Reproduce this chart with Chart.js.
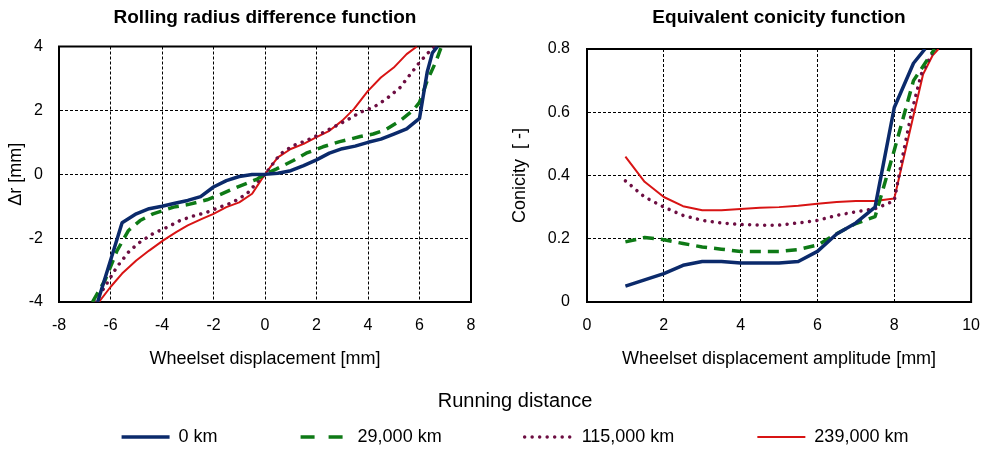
<!DOCTYPE html>
<html>
<head>
<meta charset="utf-8">
<title>Rolling radius difference and equivalent conicity</title>
<script src="https://cdn.jsdelivr.net/npm/chart.js@4.4.1/dist/chart.umd.min.js"></script>
<style>
  html, body { margin: 0; padding: 0; background: #fff; overflow: hidden; }
  #page { position: relative; width: 994px; height: 450px; overflow: hidden; }
  canvas { position: absolute; }
  #rrd { left: 0; top: 0; }
  #con { left: 497px; top: 0; }
  #leg { left: 0; top: 380px; }
</style>
</head>
<body>
<div id="page">
  <canvas id="rrd" width="497" height="380"></canvas>
  <canvas id="con" width="497" height="380"></canvas>
  <canvas id="leg" width="994" height="200"></canvas>
</div>
<script>
// series names (running distance)
const seriesLabels = ['0 km', '29,000 km', '115,000 km', '239,000 km'];

// rolling radius difference: wheelset displacement [mm] -> delta r [mm]
const rrdX0 = [-6.5, -6.0, -5.55, -5.0, -4.5, -4.0, -3.5, -3.0, -2.5, -2.0, -1.5, -1.0, -0.5, 0, 0.5, 1.0, 1.5, 2.0, 2.5, 3.0, 3.5, 4.0, 4.5, 5.0, 5.5, 6.0, 6.3, 6.5, 6.7];
const rrdY0 = [-4.0, -2.7, -1.52, -1.24, -1.08, -1.0, -0.91, -0.82, -0.7, -0.4, -0.2, -0.07, -0.01, 0, 0.03, 0.11, 0.27, 0.45, 0.66, 0.8, 0.88, 1.0, 1.1, 1.26, 1.42, 1.75, 3.2, 3.8, 4.0];
const rrdX1 = [-6.7, -6.2, -5.75, -5.3, -4.85, -4.35, -3.55, -3.0, -2.25, -1.75, -1.25, -0.7, -0.3, 0, 0.45, 1.1, 1.6, 2.25, 2.9, 3.7, 4.2, 4.7, 5.25, 5.75, 6.0, 6.3, 6.65, 6.85];
const rrdY1 = [-4.0, -3.3, -2.4, -1.76, -1.45, -1.24, -1.03, -0.95, -0.8, -0.64, -0.46, -0.28, -0.15, 0, 0.17, 0.43, 0.66, 0.86, 1.02, 1.18, 1.26, 1.4, 1.68, 2.0, 2.25, 2.93, 3.55, 4.0];
const rrdX2 = [-6.6, -6.15, -5.75, -5.25, -4.85, -4.35, -3.8, -3.3, -2.8, -2.25, -1.75, -1.25, -0.7, -0.3, 0, 0.3, 0.6, 1.1, 1.6, 2.15, 2.65, 3.15, 3.7, 4.2, 4.7, 5.25, 5.75, 6.0, 6.4, 6.6];
const rrdY2 = [-4.0, -3.43, -2.9, -2.39, -2.12, -1.86, -1.66, -1.45, -1.31, -1.19, -1.03, -0.88, -0.61, -0.25, 0, 0.32, 0.64, 0.9, 1.05, 1.26, 1.47, 1.68, 1.94, 2.09, 2.35, 2.72, 3.24, 3.5, 3.86, 4.0];
const rrdX3 = [-6.45, -6.0, -5.55, -5.0, -4.5, -3.95, -3.45, -3.0, -2.45, -2.0, -1.5, -1.0, -0.5, -0.25, 0, 0.25, 0.5, 1.0, 1.5, 2.0, 2.5, 3.0, 3.45, 4.0, 4.5, 5.0, 5.5, 5.9];
const rrdY3 = [-4.0, -3.53, -3.11, -2.7, -2.39, -2.07, -1.81, -1.6, -1.4, -1.24, -1.03, -0.88, -0.61, -0.3, 0, 0.27, 0.53, 0.79, 0.95, 1.16, 1.36, 1.68, 2.04, 2.61, 3.03, 3.34, 3.76, 4.0];

// equivalent conicity: displacement amplitude [mm] -> conicity [-]
const conX0 = [1, 1.5, 2, 2.5, 3, 3.5, 4, 4.5, 5, 5.5, 6, 6.5, 7, 7.5, 8, 8.5, 8.8];
const conY0 = [0.05, 0.07, 0.09, 0.116, 0.128, 0.128, 0.123, 0.123, 0.123, 0.128, 0.16, 0.215, 0.25, 0.3, 0.615, 0.755, 0.8];
const conX1 = [1, 1.5, 2, 2.5, 3, 3.5, 4, 4.5, 5, 5.5, 6, 6.5, 7, 7.5, 8, 8.5, 9.05];
const conY1 = [0.19, 0.204, 0.197, 0.185, 0.174, 0.167, 0.16, 0.16, 0.16, 0.166, 0.18, 0.216, 0.248, 0.27, 0.48, 0.7, 0.8];
const conX2 = [1, 1.5, 2, 2.5, 3, 3.5, 4, 4.5, 5, 5.5, 6, 6.5, 7, 7.5, 8, 8.2, 8.45, 8.7, 9.05];
const conY2 = [0.383, 0.332, 0.3, 0.274, 0.258, 0.25, 0.245, 0.243, 0.243, 0.25, 0.258, 0.274, 0.285, 0.295, 0.32, 0.45, 0.6, 0.72, 0.8];
const conX3 = [1, 1.5, 2, 2.5, 3, 3.5, 4, 4.5, 5, 5.5, 6, 6.5, 7, 7.5, 8, 8.5, 8.75, 9.0, 9.15];
const conY3 = [0.46, 0.38, 0.332, 0.303, 0.29, 0.29, 0.294, 0.298, 0.3, 0.304, 0.311, 0.316, 0.319, 0.319, 0.327, 0.59, 0.72, 0.78, 0.8];

// axis ranges [min, max, step]
const rrdXAxis = [-8, 8, 2];
const rrdYAxis = [-4, 4, 2];
const conXAxis = [0, 10, 2];
const conYAxis = [0, 0.8, 0.2];

// line styles per series
const lineStyles = [
    { color: '#0b2a6b', width: 3.5, dash: [], cap: 'butt', legendDash: [] },
    { color: '#0e7a16', width: 3.5, dash: [11, 7], cap: 'butt', legendDash: [14, 14] },
    { color: '#6d0e42', width: 3.5, dash: [0.01, 7.5], cap: 'round', legendDash: [0.01, 7.5] },
    { color: '#d81414', width: 2, dash: [], cap: 'butt', legendDash: [] }
];

const FONT = "'Liberation Sans', Arial, sans-serif";
Chart.defaults.font.family = FONT;
Chart.defaults.color = '#000';

function points(xs, ys) {
    return xs.map((x, i) => ({ x: x, y: ys[i] }));
}

function buildDatasets(seriesData) {
    return seriesData.map((pts, i) => ({
        label: seriesLabels[i],
        data: pts,
        borderColor: lineStyles[i].color,
        backgroundColor: lineStyles[i].color,
        borderWidth: lineStyles[i].width,
        borderDash: lineStyles[i].dash,
        borderCapStyle: lineStyles[i].cap,
        borderJoinStyle: 'round',
        pointRadius: 0,
        tension: 0,
        fill: false
    }));
}

// solid black frame round the plot area
const framePlugin = {
    id: 'frame',
    beforeDatasetsDraw(chart) {
        const { ctx, chartArea: a } = chart;
        ctx.save();
        ctx.strokeStyle = '#000';
        ctx.lineWidth = 2;
        ctx.strokeRect(a.left, a.top, a.right - a.left, a.bottom - a.top);
        ctx.restore();
    }
};

function makePanel(canvasId, opts) {
    const ctx = document.getElementById(canvasId).getContext('2d');
    return new Chart(ctx, {
        type: 'line',
        data: { datasets: buildDatasets(opts.series) },
        options: {
            responsive: false,
            animation: false,
            layout: { padding: { left: 0, right: opts.padRight, top: 0, bottom: 0 } },
            plugins: {
                legend: { display: false },
                tooltip: { enabled: false },
                title: {
                    display: true,
                    text: opts.title,
                    fullSize: false,
                    color: '#000',
                    font: { size: 19, weight: 'bold' },
                    padding: { top: 6, bottom: opts.titleGap }
                }
            },
            scales: {
                x: {
                    type: 'linear',
                    min: opts.xAxis[0],
                    max: opts.xAxis[1],
                    afterFit: (s) => { s.height = 78; },
                    ticks: {
                        stepSize: opts.xAxis[2],
                        padding: 14,
                        color: '#000',
                        font: { size: 16 },
                        maxRotation: 0
                    },
                    grid: { color: '#000', lineWidth: 1, drawTicks: false },
                    border: { display: true, color: '#000', width: 2, dash: [3, 2] },
                    title: {
                        display: true,
                        text: opts.xTitle,
                        color: '#000',
                        font: { size: 18 },
                        padding: { top: 0, bottom: 10 }
                    }
                },
                y: {
                    type: 'linear',
                    min: opts.yAxis[0],
                    max: opts.yAxis[1],
                    afterFit: (s) => { s.width = opts.yWidth; },
                    ticks: {
                        stepSize: opts.yAxis[2],
                        padding: opts.yTickPad,
                        color: '#000',
                        font: { size: 16 }
                    },
                    grid: { color: '#000', lineWidth: 1, drawTicks: false },
                    border: { display: true, color: '#000', width: 2, dash: [3, 2] },
                    title: {
                        display: true,
                        text: opts.yTitle,
                        color: '#000',
                        font: { size: 18 },
                        padding: { top: opts.yTitlePad, bottom: 0 }
                    }
                }
            }
        },
        plugins: [framePlugin]
    });
}

makePanel('rrd', {
    title: 'Rolling radius difference function',
    xTitle: 'Wheelset displacement [mm]',
    yTitle: 'Δr [mm]',
    xAxis: rrdXAxis,
    yAxis: rrdYAxis,
    series: [points(rrdX0, rrdY0), points(rrdX1, rrdY1), points(rrdX2, rrdY2), points(rrdX3, rrdY3)],
    padRight: 26,
    titleGap: 17.7,
    yWidth: 59,
    yTickPad: 16,
    yTitlePad: 5
});

makePanel('con', {
    title: 'Equivalent conicity function',
    xTitle: 'Wheelset displacement amplitude [mm]',
    yTitle: 'Conicity  [ -]',
    xAxis: conXAxis,
    yAxis: conYAxis,
    series: [points(conX0, conY0), points(conX1, conY1), points(conX2, conY2), points(conX3, conY3)],
    padRight: 12,
    titleGap: 20.2,
    yWidth: 90,
    yTickPad: 17,
    yTitlePad: 12
});

// shared legend underneath both panels
new Chart(document.getElementById('leg').getContext('2d'), {
    type: 'line',
    data: {
        datasets: seriesLabels.map((label, i) => ({
            label: label,
            data: [],
            borderColor: lineStyles[i].color,
            borderWidth: lineStyles[i].width
        }))
    },
    options: {
        responsive: false,
        animation: false,
        layout: { padding: { left: 36, right: 0, top: 0, bottom: 0 } },
        scales: { x: { display: false }, y: { display: false } },
        plugins: {
            tooltip: { enabled: false },
            legend: {
                display: true,
                position: 'top',
                align: 'center',
                title: {
                    display: true,
                    text: 'Running distance',
                    color: '#000',
                    font: { size: 20 },
                    padding: { top: 11, bottom: -70 }
                },
                labels: {
                    color: '#000',
                    font: { size: 18 },
                    padding: 83,
                    usePointStyle: true,
                    pointStyleWidth: 48,
                    generateLabels: (chart) => chart.data.datasets.map((ds, i) => ({
                        text: ds.label,
                        fillStyle: lineStyles[i].color,
                        strokeStyle: lineStyles[i].color,
                        lineWidth: lineStyles[i].width,
                        lineDash: lineStyles[i].legendDash,
                        lineCap: lineStyles[i].cap,
                        pointStyle: 'line',
                        fontColor: '#000',
                        hidden: false,
                        datasetIndex: i
                    }))
                }
            }
        }
    }
});
</script>
</body>
</html>
